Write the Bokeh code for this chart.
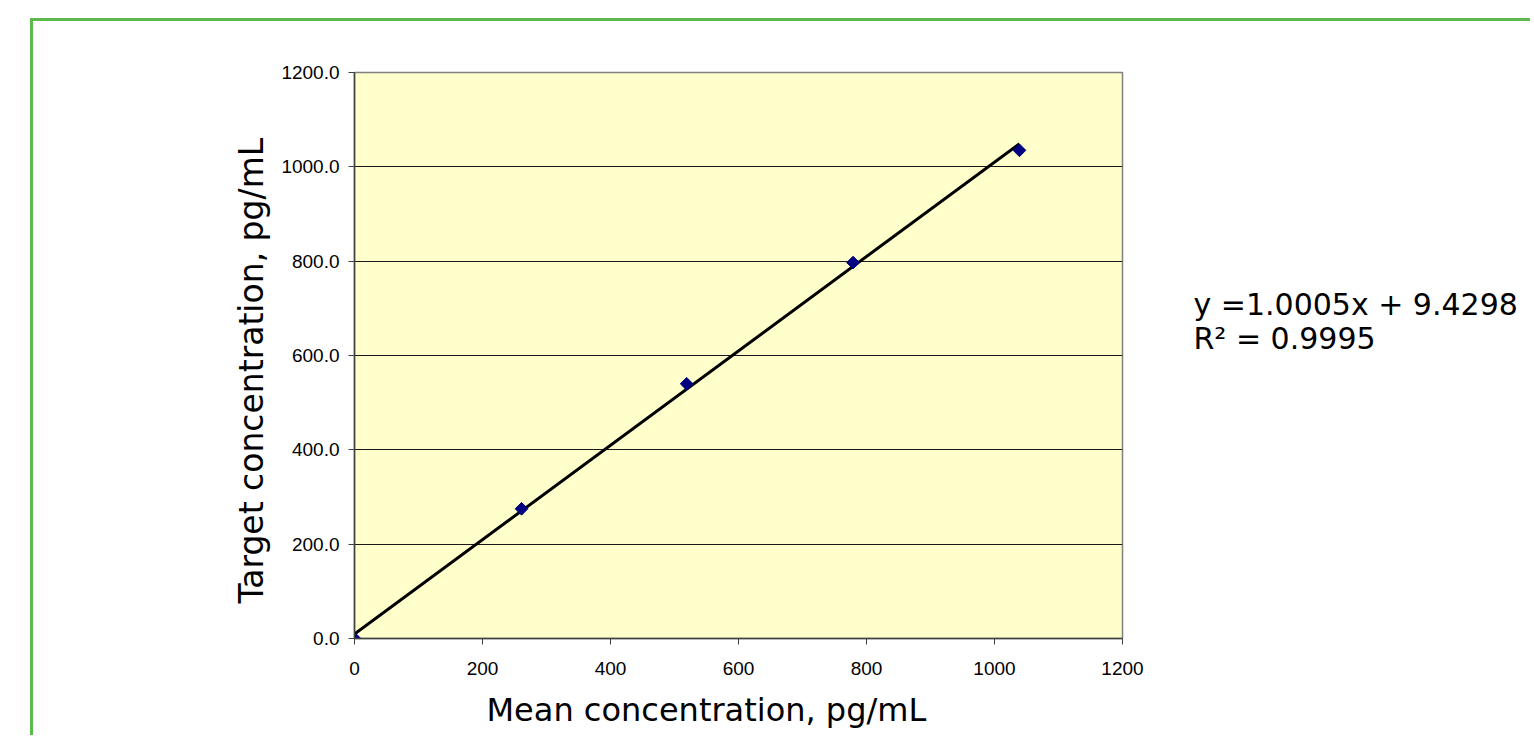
from bokeh.plotting import figure
from bokeh.layouts import row, column
from bokeh.models import (FixedTicker, NumeralTickFormatter, ColumnDataSource,
                          Range1d, Div, Spacer, Title)
from bokeh.core.properties import value
from bokeh.embed import file_html
from bokeh.resources import INLINE
import numpy as np

# ---- data ----
mean_conc = [0, 261, 519, 779, 1039]          # x: Mean concentration, pg/mL
target_conc = [0, 275, 540, 797, 1035]        # y: Target concentration, pg/mL
trend_x = [0, 1039]
trend_y = [9.4, 1049.0]
x_ticks = [0, 200, 400, 600, 800, 1000, 1200]
y_ticks = [0, 200, 400, 600, 800, 1000, 1200]
x_title = "Mean concentration, pg/mL"
y_title = "Target concentration, pg/mL"
eq_lines = ["y =1.0005x + 9.4298", "R\u00b2 = 0.9995"]

TICK_FONT = "Liberation Sans"
TITLE_FONT = "DejaVu Sans"
GREEN = "#5cb94c"

p = figure(frame_width=768, frame_height=566,
           x_range=(0, 1200), y_range=(0, 1200),
           output_backend="svg", toolbar_location=None,
           min_border_left=321, min_border_right=30,
           min_border_top=51, min_border_bottom=97, margin=0)

p.background_fill_color = "#FFFFCC"
p.border_fill_color = "white"
p.outline_line_color = "#808080"
p.outline_line_width = 1.5

p.xgrid.visible = False
p.ygrid.grid_line_color = "#1a1a1a"
p.ygrid.grid_line_width = 1

for ax in (p.xaxis[0], p.yaxis[0]):
    ax.axis_line_color = "#404040"
    ax.axis_line_width = 1.5
    ax.major_tick_line_color = "#404040"
    ax.major_tick_in = 0
    ax.major_tick_out = 6
    ax.minor_tick_line_color = None
    ax.major_label_text_font = TICK_FONT
    ax.major_label_text_font_size = "19px"
    ax.major_label_text_color = "black"

p.xaxis.ticker = FixedTicker(ticks=x_ticks)
p.yaxis.ticker = FixedTicker(ticks=y_ticks)
p.xaxis.formatter = NumeralTickFormatter(format="0")
p.yaxis.formatter = NumeralTickFormatter(format="0.0")
p.xaxis.major_label_standoff = 17
p.yaxis.major_label_standoff = 9

# axis titles as side titles, positioned as in the original
p.add_layout(Title(text=x_title, align="left", offset=132, standoff=22,
                   text_font=TITLE_FONT, text_font_size="32px",
                   text_font_style="normal", text_color="black"), "below")
p.add_layout(Title(text=y_title, align="left", offset=35, standoff=16,
                   text_font=TITLE_FONT, text_font_size="33px",
                   text_font_style="normal", text_color="black"), "left")

p.line(trend_x, trend_y, line_color="black", line_width=3)
src = ColumnDataSource(dict(x=mean_conc, y=target_conc))
p.scatter("x", "y", source=src, marker="square", angle=np.pi / 4, size=9,
          fill_color="#000080", line_color="#000080")

# ---- equation panel (to the right of the chart) ----
EQ_W, EQ_H = 378, 714
q = figure(width=EQ_W, height=EQ_H, x_range=Range1d(0, EQ_W),
           y_range=Range1d(EQ_H, 0), output_backend="svg",
           toolbar_location=None, x_axis_type=None, y_axis_type=None,
           min_border=0, margin=0)
q.grid.visible = False
q.outline_line_color = None
q.background_fill_color = "white"
q.border_fill_color = "white"
q.text(x=[41, 41], y=[295, 338], text=eq_lines, text_font=value(TITLE_FONT),
       text_font_size="30px", text_color="black", text_baseline="alphabetic")

# ---- green frame (left and top edges visible in the window) ----
top_bar = Div(width=3 + 321 + 768 + 30 + EQ_W, height=3, margin=0,
              styles={"background-color": GREEN})
left_bar = Div(width=3, height=EQ_H, margin=0,
               styles={"background-color": GREEN})

inner = column(top_bar, row(left_bar, p, q, spacing=0, margin=0),
               spacing=0, margin=0)
layout = column(Spacer(height=18, margin=0),
                row(Spacer(width=30, margin=0), inner, spacing=0, margin=0),
                spacing=0, margin=0)

open("out.html", "w").write(file_html(layout, INLINE))
